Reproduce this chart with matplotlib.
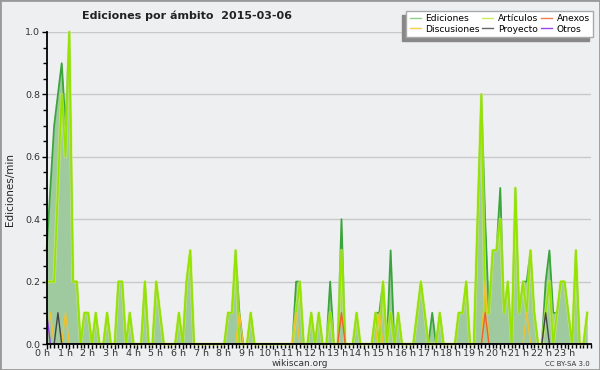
import numpy as np
import matplotlib
matplotlib.use("Agg")
import matplotlib.pyplot as plt
from matplotlib.ticker import MultipleLocator, FixedLocator
import matplotlib.transforms as mtransforms

# edits per minute, one value per 10-minute slot (6 per hour, 24 rows)
ediciones = [
    0.3, 0.5, 0.7, 0.8, 0.9, 0.7,
    1.0, 0.2, 0.2, 0.0, 0.1, 0.1,
    0.0, 0.1, 0.0, 0.0, 0.1, 0.0,
    0.0, 0.2, 0.2, 0.0, 0.1, 0.0,
    0.0, 0.0, 0.2, 0.0, 0.0, 0.2,
    0.1, 0.0, 0.0, 0.0, 0.0, 0.1,
    0.0, 0.2, 0.3, 0.0, 0.0, 0.0,
    0.0, 0.0, 0.0, 0.0, 0.0, 0.0,
    0.1, 0.1, 0.3, 0.1, 0.0, 0.0,
    0.1, 0.0, 0.0, 0.0, 0.0, 0.0,
    0.0, 0.0, 0.0, 0.0, 0.0, 0.0,
    0.2, 0.2, 0.0, 0.0, 0.1, 0.0,
    0.1, 0.0, 0.0, 0.2, 0.0, 0.0,
    0.4, 0.0, 0.0, 0.0, 0.1, 0.0,
    0.0, 0.0, 0.0, 0.1, 0.1, 0.2,
    0.0, 0.3, 0.0, 0.1, 0.0, 0.0,
    0.0, 0.0, 0.1, 0.2, 0.1, 0.0,
    0.1, 0.0, 0.1, 0.0, 0.0, 0.0,
    0.0, 0.1, 0.1, 0.2, 0.0, 0.0,
    0.4, 0.8, 0.4, 0.1, 0.3, 0.3,
    0.5, 0.1, 0.2, 0.0, 0.5, 0.1,
    0.2, 0.2, 0.3, 0.1, 0.0, 0.0,
    0.2, 0.3, 0.1, 0.1, 0.2, 0.2,
    0.1, 0.0, 0.3, 0.0, 0.0, 0.1,
]
articulos = [
    0.2, 0.2, 0.2, 0.5, 0.8, 0.6,
    1.0, 0.2, 0.2, 0.0, 0.1, 0.1,
    0.0, 0.1, 0.0, 0.0, 0.1, 0.0,
    0.0, 0.2, 0.2, 0.0, 0.1, 0.0,
    0.0, 0.0, 0.2, 0.0, 0.0, 0.2,
    0.1, 0.0, 0.0, 0.0, 0.0, 0.1,
    0.0, 0.2, 0.3, 0.0, 0.0, 0.0,
    0.0, 0.0, 0.0, 0.0, 0.0, 0.0,
    0.1, 0.1, 0.3, 0.0, 0.0, 0.0,
    0.1, 0.0, 0.0, 0.0, 0.0, 0.0,
    0.0, 0.0, 0.0, 0.0, 0.0, 0.0,
    0.1, 0.2, 0.0, 0.0, 0.1, 0.0,
    0.1, 0.0, 0.0, 0.1, 0.0, 0.0,
    0.3, 0.0, 0.0, 0.0, 0.1, 0.0,
    0.0, 0.0, 0.0, 0.1, 0.0, 0.2,
    0.0, 0.1, 0.0, 0.1, 0.0, 0.0,
    0.0, 0.0, 0.1, 0.2, 0.1, 0.0,
    0.0, 0.0, 0.1, 0.0, 0.0, 0.0,
    0.0, 0.1, 0.1, 0.2, 0.0, 0.0,
    0.4, 0.8, 0.1, 0.1, 0.3, 0.3,
    0.4, 0.1, 0.2, 0.0, 0.5, 0.1,
    0.2, 0.1, 0.3, 0.1, 0.0, 0.0,
    0.1, 0.2, 0.0, 0.1, 0.2, 0.2,
    0.1, 0.0, 0.3, 0.0, 0.0, 0.1,
]
# sparse series: slot index -> value
discusionesSlots = [1, 5, 51, 66, 88, 116, 127]
discusionesVals = [0.1, 0.1, 0.1, 0.1, 0.1, 0.2, 0.1]
anexosSlots = [78, 116]
anexosVals = [0.1, 0.1]
proyectoSlots = [3, 132]
proyectoVals = [0.1, 0.1]
otrosSlots = [0]
otrosVals = [0.1]

hourLabels = [f"{h} h" for h in range(24)]
legendNames = ["Ediciones", "Discusiones", "Artículos", "Proyecto", "Anexos", "Otros"]


def sparseSeries(slots, vals, n):
    out = np.zeros(n)
    out[slots] = vals
    return out


n = len(ediciones)
hours = np.arange(n) / 6.0
disc = sparseSeries(discusionesSlots, discusionesVals, n)
anex = sparseSeries(anexosSlots, anexosVals, n)
proy = sparseSeries(proyectoSlots, proyectoVals, n)
otros = sparseSeries(otrosSlots, otrosVals, n)

bg = "#eeeff1"
fig = plt.figure(figsize=(6, 3.7), dpi=100, facecolor=bg)
ax = fig.add_axes([46.6 / 600, 1 - 344 / 370, (591 - 46.6) / 600, 312 / 370])
ax.set_facecolor(bg)

ax.fill_between(hours, ediciones, color="#9fca9f", linewidth=0, zorder=2)
ax.plot(hours, ediciones, color="#3aa53a", lw=1.3, zorder=3, clip_on=False)
# soft halo under the articles line, like the antialiased original
ax.plot(hours, articulos, color="#d4f06a", lw=2.4, alpha=0.6, zorder=4, clip_on=False)
ax.plot(hours, articulos, color="#95e400", lw=1.2, zorder=4, clip_on=False)
ax.plot(hours, disc, color="#f2c12e", lw=1.0, zorder=5)
ax.plot(hours, anex, color="#f0602a", lw=1.0, zorder=6)
ax.plot(hours, proy, color="#444444", lw=1.0, zorder=6)
ax.plot(hours, otros, color="#8a35e0", lw=1.0, zorder=6)

ax.set_xlim(0, 24)
ax.set_ylim(0, 1.0)
ax.yaxis.set_major_locator(MultipleLocator(0.2))
ax.yaxis.set_minor_locator(MultipleLocator(0.05))
ax.set_yticklabels([f"{v:.1f}" for v in ax.get_yticks()])
ax.xaxis.set_major_locator(FixedLocator(range(24)))
ax.xaxis.set_minor_locator(MultipleLocator(1 / 6))
ax.set_xticklabels(hourLabels)
ax.grid(axis="y", color="#c9c9c9", lw=1, zorder=1)
ax.set_axisbelow(True)

for side in ["top", "right"]:
    ax.spines[side].set_visible(False)
for side in ["left", "bottom"]:
    ax.spines[side].set_linewidth(1.3)
    ax.spines[side].set_zorder(10)
ax.tick_params(axis="both", which="major", direction="out", length=3.5, width=1,
               labelsize=6.8, labelcolor="#333333", pad=0)
ax.tick_params(axis="both", which="minor", direction="out", length=3, width=1)
ax.tick_params(axis="y", which="major", pad=1)

shift = mtransforms.ScaledTranslation(-3 / 72, 0, fig.dpi_scale_trans)
for lab in ax.get_xticklabels():
    lab.set_transform(lab.get_transform() + shift)

fig.text(187 / 600, 1 - 16 / 370, "Ediciones por ámbito  2015-03-06", ha="center", va="center",
         fontsize=8, fontweight="bold", color="#222222")
fig.text(10 / 600, 1 - 190 / 370, "Ediciones/min", rotation=90, ha="center", va="center",
         fontsize=7.5, color="#222222")
fig.text(300 / 600, 1 - 363.5 / 370, "wikiscan.org", ha="center", va="center",
         fontsize=6.5, color="#333333")
fig.text(590 / 600, 1 - 363.5 / 370, "CC BY-SA 3.0", ha="right", va="center",
         fontsize=5, color="#333333")

handleColors = ["#8fd08f", "#f7cd4a", "#cdec5a", "#666666", "#f08050", "#9b45ea"]
handles = [plt.Line2D([], [], color=c, lw=1) for c in handleColors]
leg = fig.legend(handles, legendNames, ncol=3, loc="upper right",
                 bbox_to_anchor=(593 / 600, 1 - 11 / 370), fontsize=6.6,
                 handlelength=1.2, handletextpad=0.5, columnspacing=0.3,
                 labelspacing=0.15, borderpad=0.35, borderaxespad=0,
                 fancybox=False, framealpha=1, edgecolor="#aaaaaa",
                 shadow={"ox": -3, "oy": -3, "color": "#888888", "alpha": 1})
leg.get_frame().set_linewidth(1)

fig.patches.append(plt.Rectangle((0, 0), 1, 1, transform=fig.transFigure, fill=False,
                                 edgecolor="#999999", lw=2))

fig.savefig("out.png", dpi=100, facecolor=bg)
